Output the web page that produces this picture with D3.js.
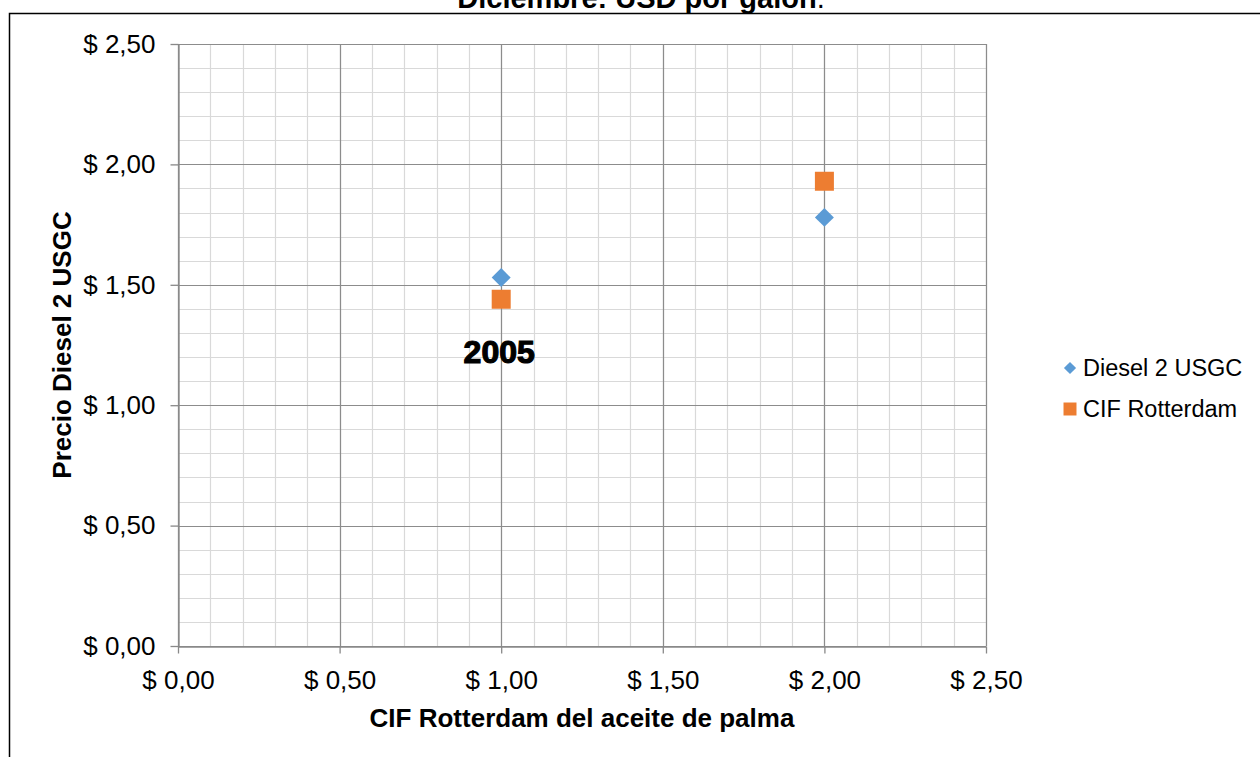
<!DOCTYPE html>
<html>
<head>
<meta charset="utf-8">
<script src="https://cdn.jsdelivr.net/npm/d3@7"></script>
<style>
  html, body { margin: 0; padding: 0; background: #fff; }
  svg { display: block; font-family: "Liberation Sans", Arial, sans-serif; }
</style>
</head>
<body>
<svg id="chart" width="1260" height="757"></svg>
<script>
// Price pairs for December: palm oil CIF Rotterdam (x) against price (y)
const xValues = [1.0, 2.0];
const dieselValues = [1.53, 1.78];
const cifValues = [1.44, 1.93];
const seriesNames = ["Diesel 2 USGC", "CIF Rotterdam"];
const majorTicks = [0, 0.5, 1.0, 1.5, 2.0, 2.5];
const pointLabel = { x: 1.0, y: 1.23, text: "2005" };

const svg = d3.select("#chart");
const W = 1260, H = 757;
const plot = { left: 178, right: 986, top: 44, bottom: 646 };

const x = d3.scaleLinear().domain([0, 2.5]).range([plot.left, plot.right]);
const y = d3.scaleLinear().domain([0, 2.5]).range([plot.bottom, plot.top]);
const fmt = v => "$ " + d3.format(".2f")(v).replace(".", ",");

// Outer chart frame
svg.append("path")
  .attr("d", `M9.5,${H} V13.5 H${W}`)
  .attr("fill", "none").attr("stroke", "#000").attr("stroke-width", 1.5);

// Title (its upper part runs past the top edge)
const title = svg.append("text")
  .attr("x", 641).attr("y", 8).attr("text-anchor", "middle")
  .attr("font-size", 29).attr("fill", "#000");
title.append("tspan").attr("font-weight", "bold").text("Diciembre: USD por galón");
title.append("tspan").text(".");

// Minor grid every 0.1, major every 0.5
const minor = d3.range(0, 2.5001, 0.1).map(v => +v.toFixed(1));
const grid = svg.append("g");
grid.selectAll(".vminor").data(minor).join("line")
  .attr("x1", d => Math.round(x(d)) + 0.5).attr("x2", d => Math.round(x(d)) + 0.5)
  .attr("y1", plot.top).attr("y2", plot.bottom)
  .attr("stroke", "#d9d9d9").attr("stroke-width", 1.2);
grid.selectAll(".hminor").data(minor).join("line")
  .attr("y1", d => Math.round(y(d)) + 0.5).attr("y2", d => Math.round(y(d)) + 0.5)
  .attr("x1", plot.left).attr("x2", plot.right)
  .attr("stroke", "#d9d9d9").attr("stroke-width", 1.2);
grid.selectAll(".vmajor").data(majorTicks).join("line")
  .attr("x1", d => Math.round(x(d)) + 0.5).attr("x2", d => Math.round(x(d)) + 0.5)
  .attr("y1", plot.top).attr("y2", plot.bottom)
  .attr("stroke", "#8c8c8c").attr("stroke-width", 1.2);
grid.selectAll(".hmajor").data(majorTicks).join("line")
  .attr("y1", d => Math.round(y(d)) + 0.5).attr("y2", d => Math.round(y(d)) + 0.5)
  .attr("x1", plot.left).attr("x2", plot.right)
  .attr("stroke", "#8c8c8c").attr("stroke-width", 1.2);

// Axes
const xAxis = d3.axisBottom(x).tickValues(majorTicks).tickFormat(fmt).tickSizeInner(7).tickSizeOuter(0).tickPadding(17);
const yAxis = d3.axisLeft(y).tickValues(majorTicks).tickFormat(fmt).tickSizeInner(8).tickSizeOuter(0).tickPadding(15);

const gx = svg.append("g").attr("transform", `translate(0,${plot.bottom + 0.5})`).call(xAxis);
const gy = svg.append("g").attr("transform", `translate(${plot.left + 0.5},0)`).call(yAxis);
[gx, gy].forEach(g => {
  g.select(".domain").attr("stroke", "#898989").attr("stroke-width", 1.3);
  g.selectAll(".tick line").attr("stroke", "#898989").attr("stroke-width", 1.3);
  g.selectAll(".tick text").attr("font-size", 26).attr("fill", "#000")
    .attr("font-family", "'Liberation Sans', Arial, sans-serif");
});

// Axis titles
svg.append("text")
  .attr("x", 582).attr("y", 727).attr("text-anchor", "middle")
  .attr("font-size", 26).attr("font-weight", "bold").attr("fill", "#000")
  .text("CIF Rotterdam del aceite de palma");
svg.append("text")
  .attr("transform", "translate(71,345) rotate(-90)")
  .attr("text-anchor", "middle")
  .attr("font-size", 26).attr("font-weight", "bold").attr("fill", "#000")
  .text("Precio Diesel 2 USGC");

// Series markers
const diamond = d3.symbol().type(d3.symbolDiamond2).size(230);
const square = d3.symbol().type(d3.symbolSquare2).size(460);
const colors = ["#5b9bd5", "#ed7d31"];

svg.append("g").selectAll("path").data(xValues.map((v, i) => [v, dieselValues[i]])).join("path")
  .attr("d", diamond)
  .attr("transform", d => `translate(${x(d[0])},${y(d[1])})`)
  .attr("fill", colors[0]);
svg.append("g").selectAll("path").data(xValues.map((v, i) => [v, cifValues[i]])).join("path")
  .attr("d", square)
  .attr("transform", d => `translate(${x(d[0])},${y(d[1])})`)
  .attr("fill", colors[1]);

// Year annotation
svg.append("text")
  .attr("x", x(pointLabel.x) - 2).attr("y", y(pointLabel.y) + 13)
  .attr("text-anchor", "middle")
  .attr("font-size", 32).attr("font-weight", "bold")
  .attr("fill", "#000").attr("stroke", "#000").attr("stroke-width", 1.2)
  .attr("font-family", "'Liberation Sans Narrow', 'Liberation Sans', Arial, sans-serif")
  .text(pointLabel.text);

// Legend
const legend = svg.append("g");
const legendMarks = [d3.symbol().type(d3.symbolDiamond2).size(95), d3.symbol().type(d3.symbolSquare2).size(215)];
seriesNames.forEach((name, i) => {
  const ly = 368 + i * 41;
  legend.append("path").attr("d", legendMarks[i])
    .attr("transform", `translate(${1070},${ly})`).attr("fill", colors[i]);
  legend.append("text").attr("x", 1083).attr("y", ly + 8)
    .attr("font-size", 23.5).attr("fill", "#000").text(name);
});
</script>
</body>
</html>
